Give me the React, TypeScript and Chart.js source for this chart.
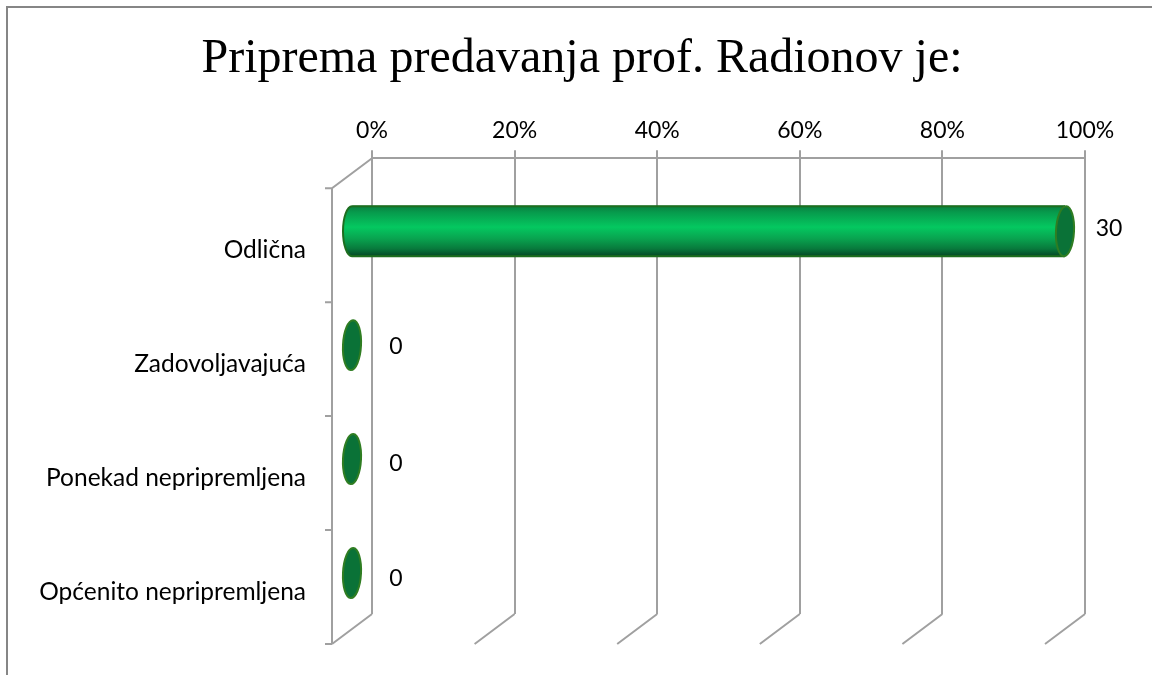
import React, { useEffect, useRef } from "react";
import { Chart, registerables } from "chart.js";

Chart.register(...registerables);

const titleText = "Priprema predavanja prof. Radionov je:";
const categories = ["Odlična", "Zadovoljavajuća", "Ponekad nepripremljena", "Općenito nepripremljena"];
const responses = [30, 0, 0, 0];
const totalResponses = 30;
const tickStep = 6;

const AXIS = "#a0a0a0";
const FRAME = "#868686";
const DEPTH_X = -40;
const DEPTH_Y = 30;
const BAR_DX = -20;
const BAR_DY = 16;
const BAR_H = 50;
const CAP_RX = 9;
const labelNudge = [-3, 1, 5, 6];

function barGradient(ctx: CanvasRenderingContext2D, cy: number) {
  const top = cy - BAR_H / 2;
  const g = ctx.createLinearGradient(0, top, 0, top + BAR_H);
  g.addColorStop(0, "#0a8040");
  g.addColorStop(0.12, "#079a4c");
  g.addColorStop(0.42, "#04c860");
  g.addColorStop(0.65, "#09a34f");
  g.addColorStop(0.85, "#087a3c");
  g.addColorStop(0.97, "#05512a");
  g.addColorStop(1, "#0c5a1c");
  return g;
}

const framePlugin = {
  id: "frame3d",
  beforeDraw(chart: any) {
    const { ctx, width, height } = chart;
    ctx.save();
    ctx.strokeStyle = FRAME;
    ctx.lineWidth = 2;
    ctx.beginPath();
    ctx.moveTo(7, height);
    ctx.lineTo(7, 7);
    ctx.lineTo(width, 7);
    ctx.stroke();
    ctx.restore();
  },
  beforeDatasetsDraw(chart: any) {
    const { ctx, chartArea, scales } = chart;
    const { top, bottom, left } = chartArea;
    const step = (bottom - top) / categories.length;
    ctx.save();
    ctx.strokeStyle = AXIS;
    ctx.lineWidth = 2;
    ctx.beginPath();
    scales.x.ticks.forEach((t: any) => {
      const px = scales.x.getPixelForValue(t.value);
      ctx.moveTo(px, bottom);
      ctx.lineTo(px + DEPTH_X, bottom + DEPTH_Y);
    });
    ctx.moveTo(left, top);
    ctx.lineTo(left + DEPTH_X, top + DEPTH_Y);
    ctx.lineTo(left + DEPTH_X, bottom + DEPTH_Y);
    for (let i = 0; i <= categories.length; i++) {
      const y = top + DEPTH_Y + i * step;
      ctx.moveTo(left + DEPTH_X, y);
      ctx.lineTo(left + DEPTH_X - 7, y);
    }
    ctx.stroke();
    ctx.restore();
  },
  beforeDatasetDraw(chart: any) {
    chart.ctx.save();
    chart.ctx.translate(BAR_DX, BAR_DY);
  },
  afterDatasetDraw(chart: any) {
    const { ctx } = chart;
    const bars = chart.getDatasetMeta(0).data;
    bars.forEach((bar: any, i: number) => {
      const x0 = chart.scales.x.getPixelForValue(0);
      const cy = bar.y;
      const isZero = responses[i] === 0;
      if (!isZero) {
        ctx.beginPath();
        ctx.ellipse(x0, cy, CAP_RX, BAR_H / 2, 0, Math.PI / 2, (3 * Math.PI) / 2);
        ctx.lineTo(x0 + 2, cy - BAR_H / 2);
        ctx.lineTo(x0 + 2, cy + BAR_H / 2);
        ctx.closePath();
        ctx.fillStyle = barGradient(ctx, cy);
        ctx.fill();
        ctx.beginPath();
        ctx.ellipse(x0, cy, CAP_RX, BAR_H / 2, 0, Math.PI / 2, (3 * Math.PI) / 2);
        ctx.moveTo(x0, cy - BAR_H / 2);
        ctx.lineTo(bar.x, cy - BAR_H / 2);
        ctx.moveTo(x0, cy + BAR_H / 2);
        ctx.lineTo(bar.x, cy + BAR_H / 2);
        ctx.strokeStyle = "#1d6e1f";
        ctx.lineWidth = 2;
        ctx.stroke();
      }
      ctx.beginPath();
      ctx.ellipse(bar.x, cy, CAP_RX, BAR_H / 2, 0.05, 0, Math.PI * 2);
      ctx.fillStyle = "#0a7237";
      ctx.fill();
      ctx.strokeStyle = "#2f7d22";
      ctx.lineWidth = 2;
      ctx.stroke();
      ctx.fillStyle = "#000";
      ctx.font = "23px Lato";
      ctx.textAlign = "center";
      ctx.textBaseline = "middle";
      ctx.fillText(String(responses[i]), bar.x + 44, cy + labelNudge[i]);
    });
    ctx.restore();
  },
};

export default function App() {
  const ref = useRef<HTMLCanvasElement>(null);
  useEffect(() => {
    const chart = new Chart(ref.current!, {
      type: "bar",
      data: {
        labels: categories,
        datasets: [
          {
            data: responses,
            barThickness: BAR_H,
            borderWidth: 0,
            backgroundColor: (c: any) => {
              const y = c.chart.scales?.y;
              const py = y && typeof c.dataIndex === "number" ? y.getPixelForValue(c.dataIndex) : NaN;
              if (!Number.isFinite(py)) return "#04c860";
              return barGradient(c.chart.ctx, py);
            },
          },
        ],
      },
      plugins: [framePlugin],
      options: {
        indexAxis: "y",
        animation: false,
        responsive: false,
        layout: { autoPadding: false, padding: { left: 12, right: 0, top: 0, bottom: 61 } },
        plugins: {
          legend: { display: false },
          tooltip: { enabled: false },
          title: {
            display: true,
            text: titleText,
            color: "#000",
            font: { family: "'Liberation Serif'", size: 48, weight: "normal", lineHeight: 1.2 },
            padding: { top: 31, bottom: 8 },
          },
        },
        scales: {
          x: {
            position: "top",
            min: 0,
            max: totalResponses,
            afterFit: (s: any) => { s.height = 61.6; s.paddingLeft = 0; s.paddingRight = 0; },
            ticks: {
              stepSize: tickStep,
              padding: 6,
              maxRotation: 0,
              color: "#000",
              font: { family: "Lato", size: 23 },
              callback: (v: any) => `${Math.round((Number(v) / totalResponses) * 100)}%`,
            },
            grid: { color: AXIS, lineWidth: 2, tickLength: 8 },
            border: { color: AXIS, width: 2 },
          },
          y: {
            afterFit: (s: any) => { s.width = 360; s.paddingTop = 0; s.paddingBottom = 0; },
            ticks: {
              padding: 66,
              labelOffset: 35,
              color: "#000",
              font: { family: "Lato", size: 24.5 },
            },
            grid: { display: false, drawTicks: false },
            border: { display: false },
          },
          rightGutter: {
            type: "linear",
            axis: "y",
            position: "right",
            afterFit: (s: any) => { s.width = 67; s.paddingTop = 0; s.paddingBottom = 0; },
            ticks: { display: false },
            grid: { display: false, drawTicks: false },
            border: { display: false },
          },
        },
      },
    } as any);
    return () => chart.destroy();
  }, []);
  return (
    <div style={{ position: "absolute", left: 0, top: 0, width: 1152, height: 675, background: "#fff" }}>
      <canvas ref={ref} width={1152} height={675} style={{ display: "block" }} />
    </div>
  );
}
